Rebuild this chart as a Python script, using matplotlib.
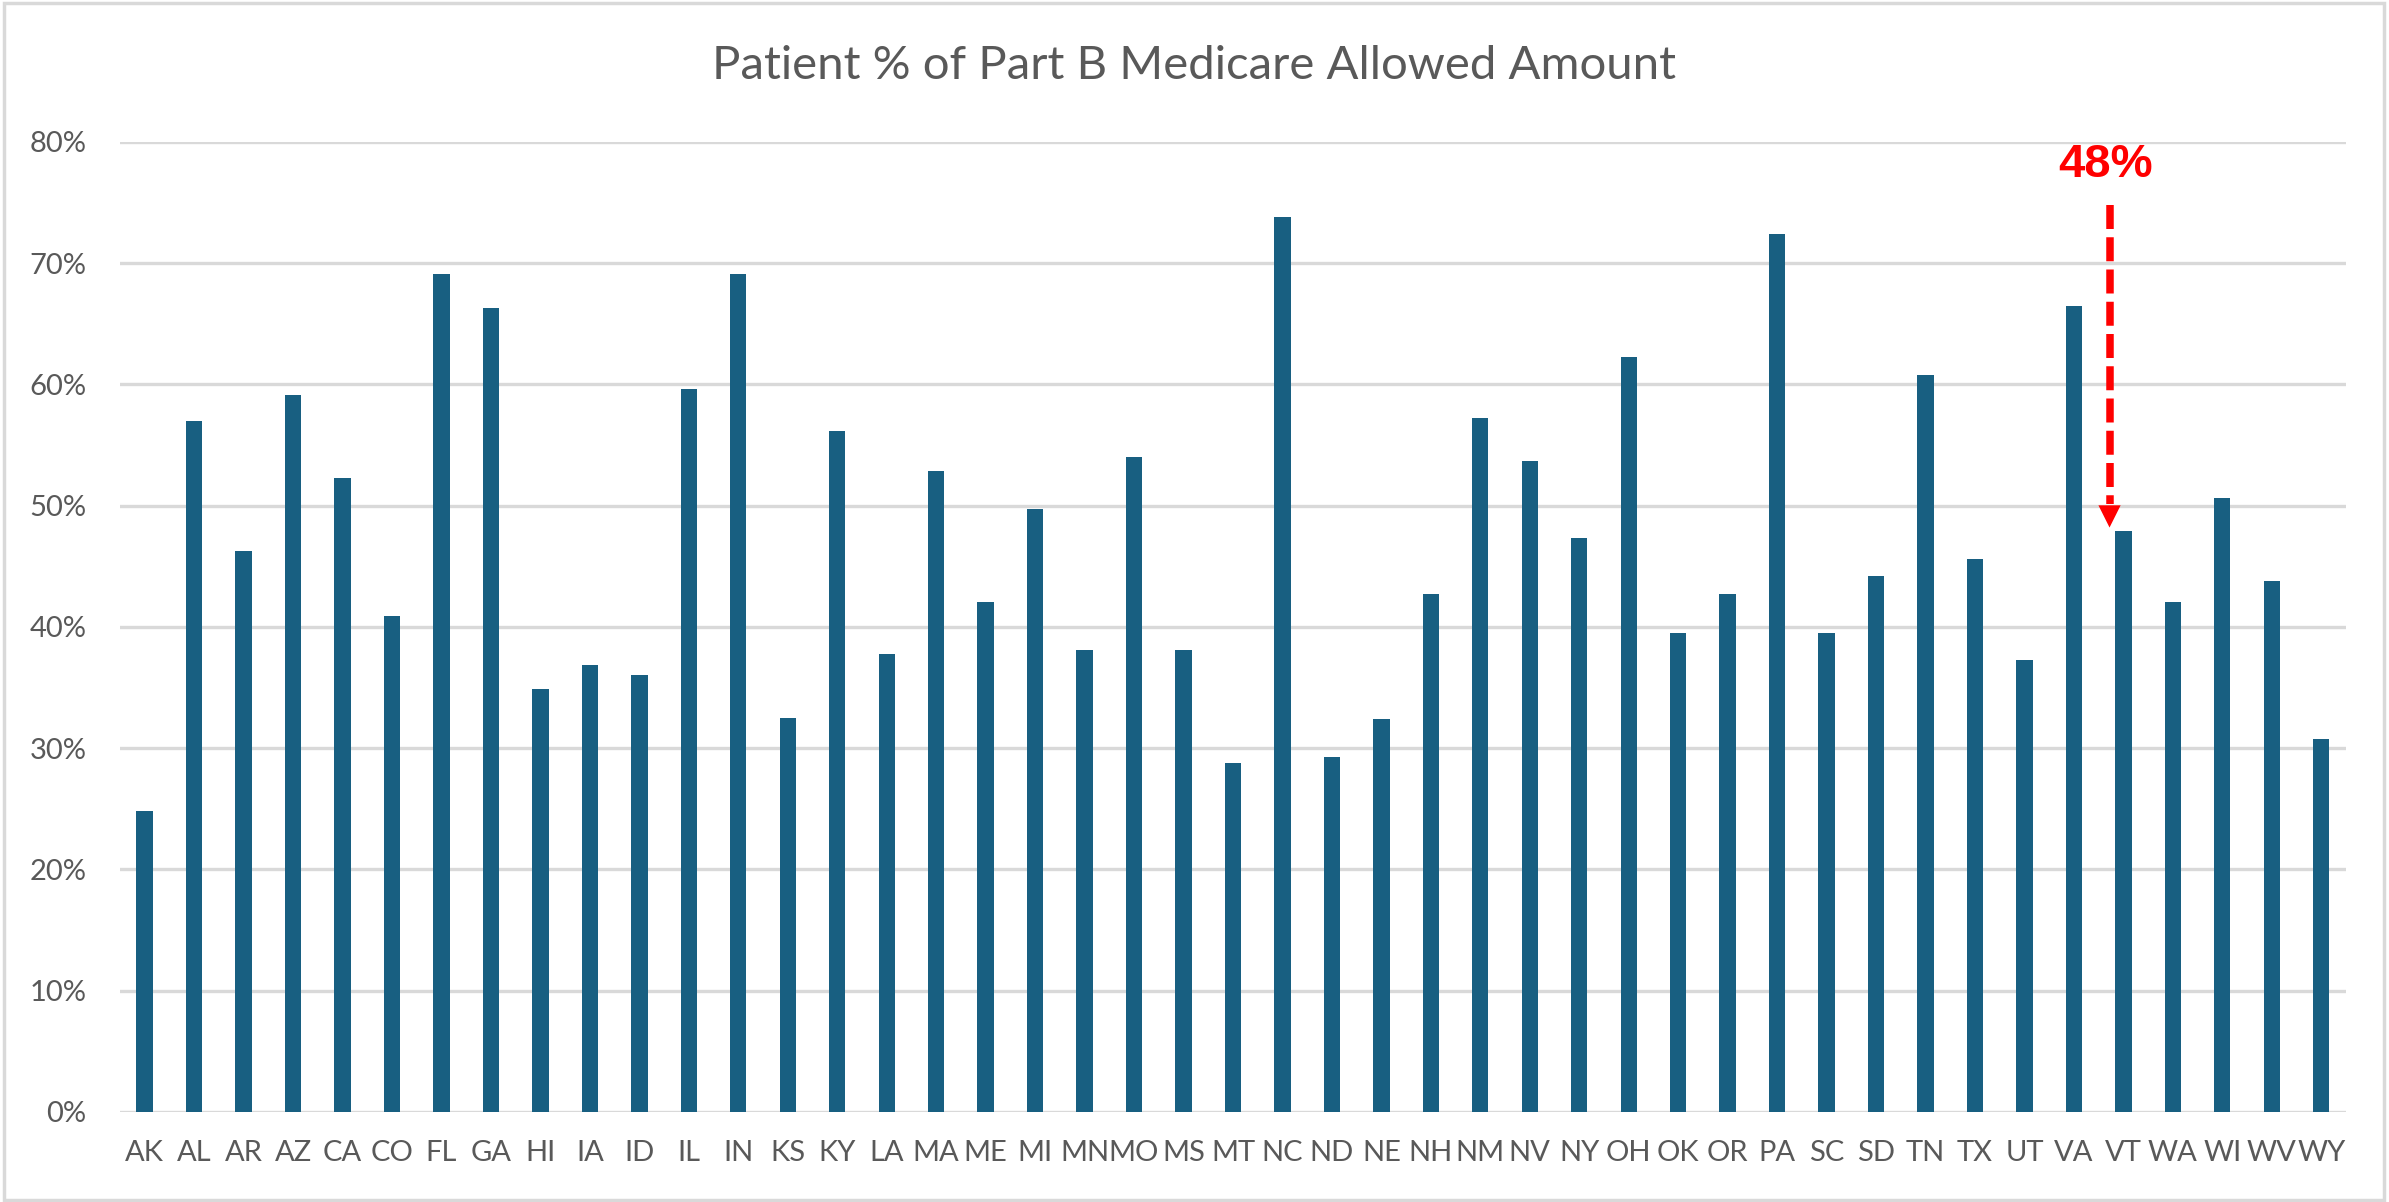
#!/usr/bin/env python3

import numpy as np
import matplotlib
matplotlib.use('Agg')
import matplotlib.pyplot as plt
from matplotlib.patches import Rectangle
from matplotlib.ticker import FuncFormatter

states = ['AK', 'AL', 'AR', 'AZ', 'CA', 'CO', 'FL', 'GA', 'HI', 'IA',
		  'ID', 'IL', 'IN', 'KS', 'KY', 'LA', 'MA', 'ME', 'MI', 'MN',
		  'MO', 'MS', 'MT', 'NC', 'ND', 'NE', 'NH', 'NM', 'NV', 'NY',
		  'OH', 'OK', 'OR', 'PA', 'SC', 'SD', 'TN', 'TX', 'UT', 'VA',
		  'VT', 'WA', 'WI', 'WV', 'WY']

patient_pct = [24.8, 57.0, 46.3, 59.1, 52.3, 40.9, 69.1, 66.3, 34.9, 36.9,
			   36.0, 59.6, 69.1, 32.5, 56.2, 37.8, 52.9, 42.1, 49.7, 38.1,
			   54.0, 38.1, 28.8, 73.8, 29.3, 32.4, 42.7, 57.2, 53.7, 47.3,
			   62.3, 39.5, 42.7, 72.4, 39.5, 44.2, 60.8, 45.6, 37.3, 66.5,
			   47.9, 42.1, 50.6, 43.8, 30.8]

y_ticks = [0, 10, 20, 30, 40, 50, 60, 70, 80]

title = 'Patient % of Part B Medicare Allowed Amount'

# callout over VT
callout_text = '48%'
callout_x = 39.72
callout_text_y = 77.1
arrow_top = 74.8
arrow_head_base = 50.1
arrow_tip = 48.2


def draw_callout(ax):
	"""
	Red dashed arrow pointing at VT with its label
	"""
	ax.text(callout_x - 0.08, callout_text_y, callout_text, color='#ff0000',
			fontsize=34, fontweight='bold', family=['Liberation Sans', 'DejaVu Sans'],
			ha='center', va='baseline', zorder=5)
	ax.plot([callout_x, callout_x], [arrow_top, arrow_head_base], color='#ff0000',
			lw=5.4, linestyle=(0, (3.2, 1.1)), dash_capstyle='butt', zorder=5)
	ax.annotate('', xy=(callout_x, arrow_tip), xytext=(callout_x, arrow_head_base + 0.3),
				arrowprops=dict(arrowstyle='-|>,head_length=0.8,head_width=0.4',
								mutation_scale=20, color='#ff0000', lw=0,
								shrinkA=0, shrinkB=0),
				zorder=5)


def make_chart():
	plt.rcParams['font.family'] = ['Lato', 'DejaVu Sans']

	fig = plt.figure(figsize=(23.89, 12.02), dpi=100)
	fig.patch.set_facecolor('white')
	ax = fig.add_axes([0.0502, 0.0749, 0.9318, 0.807])

	x = np.arange(len(states))
	ax.bar(x, patient_pct, width=0.33, color='#185F81', zorder=3)

	ax.set_xlim(-0.5, len(states) - 0.5)
	ax.set_ylim(0, 80)
	ax.set_yticks(y_ticks)
	ax.yaxis.set_major_formatter(FuncFormatter(lambda v, _: '%d%%' % v))
	ax.set_xticks(x)
	ax.set_xticklabels(states)

	ax.grid(axis='y', color='#d9d9d9', linewidth=2.4, zorder=0)
	ax.set_axisbelow(True)
	for side in ['top', 'right', 'left', 'bottom']:
		ax.spines[side].set_visible(False)
	ax.tick_params(axis='both', length=0, labelsize=21, colors='#595959')
	ax.tick_params(axis='y', pad=24)
	ax.tick_params(axis='x', pad=20)

	fig.text(0.5, 0.934, title, ha='center', va='baseline', fontsize=34,
			 color='#595959')

	draw_callout(ax)

	# chart area frame
	fig.patches.append(Rectangle((0.0015, 0.002), 0.9965, 0.9955, transform=fig.transFigure,
								 fill=False, edgecolor='#d9d9d9', linewidth=2.5))

	fig.savefig('out.png', dpi=100, facecolor='white')


if __name__ == '__main__':
	make_chart()
